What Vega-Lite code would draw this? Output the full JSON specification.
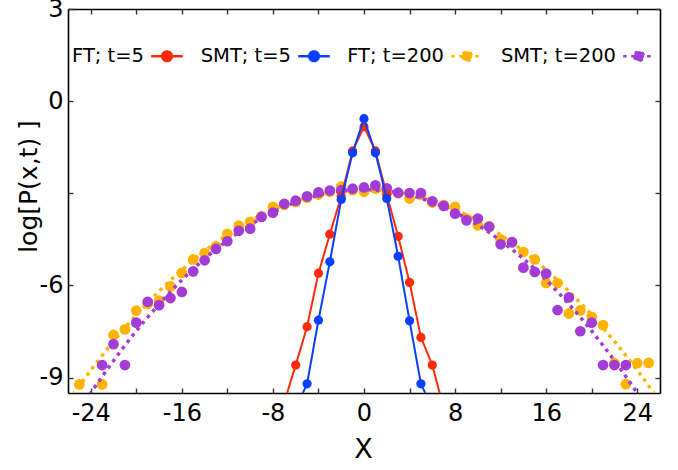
{
  "$schema": "https://vega.github.io/schema/vega-lite/v6.json",
  "width": 592,
  "height": 384,
  "autosize": {"type": "none"},
  "padding": {"left": 68, "top": 9, "right": 18, "bottom": 77},
  "background": "white",
  "config": {
    "view": {"stroke": null},
    "font": "DejaVu Sans",
    "axis": {
      "grid": false,
      "labelFont": "DejaVu Sans",
      "labelFontSize": 24,
      "labelColor": "black",
      "labelFlush": false,
      "labelOverlap": false,
      "titleFont": "DejaVu Sans",
      "titleFontSize": 25,
      "titleFontWeight": "normal",
      "titleColor": "black",
      "domainColor": "black",
      "domainWidth": 1.6,
      "tickColor": "#333333",
      "tickWidth": 1.4,
      "tickSize": -5
    }
  },
  "datasets": {
    "t5": [
      {"s": "FT; t=5", "x": -7, "y": -9.8},
      {"s": "FT; t=5", "x": -6, "y": -8.59},
      {"s": "FT; t=5", "x": -5, "y": -7.34},
      {"s": "FT; t=5", "x": -4, "y": -5.6},
      {"s": "FT; t=5", "x": -3, "y": -4.33},
      {"s": "FT; t=5", "x": -2, "y": -3.1},
      {"s": "FT; t=5", "x": -1, "y": -1.62},
      {"s": "FT; t=5", "x": 0, "y": -0.83},
      {"s": "FT; t=5", "x": 1, "y": -1.62},
      {"s": "FT; t=5", "x": 2, "y": -3.05},
      {"s": "FT; t=5", "x": 3, "y": -4.4},
      {"s": "FT; t=5", "x": 4, "y": -5.9},
      {"s": "FT; t=5", "x": 5, "y": -7.69},
      {"s": "FT; t=5", "x": 6, "y": -8.59},
      {"s": "FT; t=5", "x": 7, "y": -10.0},
      {"s": "SMT; t=5", "x": -6, "y": -10.0},
      {"s": "SMT; t=5", "x": -5, "y": -9.2},
      {"s": "SMT; t=5", "x": -4, "y": -7.13},
      {"s": "SMT; t=5", "x": -3, "y": -5.23},
      {"s": "SMT; t=5", "x": -2, "y": -3.2},
      {"s": "SMT; t=5", "x": -1, "y": -1.68},
      {"s": "SMT; t=5", "x": 0, "y": -0.57},
      {"s": "SMT; t=5", "x": 1, "y": -1.68},
      {"s": "SMT; t=5", "x": 2, "y": -3.17},
      {"s": "SMT; t=5", "x": 3, "y": -5.05},
      {"s": "SMT; t=5", "x": 4, "y": -7.15},
      {"s": "SMT; t=5", "x": 5, "y": -9.2},
      {"s": "SMT; t=5", "x": 6, "y": -10.0}
    ],
    "t200": [
      {"s": "FT; t=200", "x": -25, "y": -9.22},
      {"s": "FT; t=200", "x": -23, "y": -9.22},
      {"s": "FT; t=200", "x": -22, "y": -7.61},
      {"s": "FT; t=200", "x": -21, "y": -7.43},
      {"s": "FT; t=200", "x": -20, "y": -6.82},
      {"s": "FT; t=200", "x": -19, "y": -6.6},
      {"s": "FT; t=200", "x": -18, "y": -6.49},
      {"s": "FT; t=200", "x": -17, "y": -6.03},
      {"s": "FT; t=200", "x": -16, "y": -5.59},
      {"s": "FT; t=200", "x": -15, "y": -5.15},
      {"s": "FT; t=200", "x": -14, "y": -4.95},
      {"s": "FT; t=200", "x": -13, "y": -4.73},
      {"s": "FT; t=200", "x": -12, "y": -4.32},
      {"s": "FT; t=200", "x": -11, "y": -4.05},
      {"s": "FT; t=200", "x": -10, "y": -3.93},
      {"s": "FT; t=200", "x": -9, "y": -3.75},
      {"s": "FT; t=200", "x": -8, "y": -3.44},
      {"s": "FT; t=200", "x": -7, "y": -3.38},
      {"s": "FT; t=200", "x": -6, "y": -3.28},
      {"s": "FT; t=200", "x": -5, "y": -3.14},
      {"s": "FT; t=200", "x": -4, "y": -3.04},
      {"s": "FT; t=200", "x": -3, "y": -2.95},
      {"s": "FT; t=200", "x": -2, "y": -2.78},
      {"s": "FT; t=200", "x": -1, "y": -2.9},
      {"s": "FT; t=200", "x": 0, "y": -2.95},
      {"s": "FT; t=200", "x": 1, "y": -2.85},
      {"s": "FT; t=200", "x": 2, "y": -2.98},
      {"s": "FT; t=200", "x": 3, "y": -3.0},
      {"s": "FT; t=200", "x": 4, "y": -3.17},
      {"s": "FT; t=200", "x": 5, "y": -3.05},
      {"s": "FT; t=200", "x": 6, "y": -3.3},
      {"s": "FT; t=200", "x": 7, "y": -3.38},
      {"s": "FT; t=200", "x": 8, "y": -3.44},
      {"s": "FT; t=200", "x": 9, "y": -3.82},
      {"s": "FT; t=200", "x": 10, "y": -4.04},
      {"s": "FT; t=200", "x": 11, "y": -4.07},
      {"s": "FT; t=200", "x": 12, "y": -4.5},
      {"s": "FT; t=200", "x": 13, "y": -4.6},
      {"s": "FT; t=200", "x": 14, "y": -4.91},
      {"s": "FT; t=200", "x": 15, "y": -5.15},
      {"s": "FT; t=200", "x": 16, "y": -5.92},
      {"s": "FT; t=200", "x": 17, "y": -5.92},
      {"s": "FT; t=200", "x": 18, "y": -6.91},
      {"s": "FT; t=200", "x": 19, "y": -6.81},
      {"s": "FT; t=200", "x": 20, "y": -7.02},
      {"s": "FT; t=200", "x": 21, "y": -7.29},
      {"s": "FT; t=200", "x": 22, "y": -8.53},
      {"s": "FT; t=200", "x": 23, "y": -9.21},
      {"s": "FT; t=200", "x": 24, "y": -8.53},
      {"s": "FT; t=200", "x": 25, "y": -8.52},
      {"s": "SMT; t=200", "x": -23, "y": -8.59},
      {"s": "SMT; t=200", "x": -22, "y": -7.91},
      {"s": "SMT; t=200", "x": -21, "y": -8.59},
      {"s": "SMT; t=200", "x": -20, "y": -7.21},
      {"s": "SMT; t=200", "x": -19, "y": -6.53},
      {"s": "SMT; t=200", "x": -18, "y": -6.64},
      {"s": "SMT; t=200", "x": -17, "y": -6.41},
      {"s": "SMT; t=200", "x": -16, "y": -6.21},
      {"s": "SMT; t=200", "x": -15, "y": -5.54},
      {"s": "SMT; t=200", "x": -14, "y": -5.18},
      {"s": "SMT; t=200", "x": -13, "y": -4.81},
      {"s": "SMT; t=200", "x": -12, "y": -4.56},
      {"s": "SMT; t=200", "x": -11, "y": -4.22},
      {"s": "SMT; t=200", "x": -10, "y": -4.15},
      {"s": "SMT; t=200", "x": -9, "y": -3.77},
      {"s": "SMT; t=200", "x": -8, "y": -3.63},
      {"s": "SMT; t=200", "x": -7, "y": -3.34},
      {"s": "SMT; t=200", "x": -6, "y": -3.24},
      {"s": "SMT; t=200", "x": -5, "y": -3.1},
      {"s": "SMT; t=200", "x": -4, "y": -2.97},
      {"s": "SMT; t=200", "x": -3, "y": -2.91},
      {"s": "SMT; t=200", "x": -2, "y": -2.9},
      {"s": "SMT; t=200", "x": -1, "y": -2.85},
      {"s": "SMT; t=200", "x": 0, "y": -2.81},
      {"s": "SMT; t=200", "x": 1, "y": -2.74},
      {"s": "SMT; t=200", "x": 2, "y": -2.84},
      {"s": "SMT; t=200", "x": 3, "y": -2.98},
      {"s": "SMT; t=200", "x": 4, "y": -2.99},
      {"s": "SMT; t=200", "x": 5, "y": -2.99},
      {"s": "SMT; t=200", "x": 6, "y": -3.26},
      {"s": "SMT; t=200", "x": 7, "y": -3.41},
      {"s": "SMT; t=200", "x": 8, "y": -3.66},
      {"s": "SMT; t=200", "x": 9, "y": -3.88},
      {"s": "SMT; t=200", "x": 10, "y": -3.82},
      {"s": "SMT; t=200", "x": 11, "y": -4.09},
      {"s": "SMT; t=200", "x": 12, "y": -4.66},
      {"s": "SMT; t=200", "x": 13, "y": -4.59},
      {"s": "SMT; t=200", "x": 14, "y": -5.42},
      {"s": "SMT; t=200", "x": 15, "y": -5.56},
      {"s": "SMT; t=200", "x": 16, "y": -5.61},
      {"s": "SMT; t=200", "x": 17, "y": -6.8},
      {"s": "SMT; t=200", "x": 18, "y": -6.39},
      {"s": "SMT; t=200", "x": 19, "y": -7.49},
      {"s": "SMT; t=200", "x": 20, "y": -7.21},
      {"s": "SMT; t=200", "x": 21, "y": -8.59},
      {"s": "SMT; t=200", "x": 22, "y": -8.59},
      {"s": "SMT; t=200", "x": 23, "y": -8.59}
    ],
    "fit200": [
      {"s": "FT; t=200", "x": -26, "y": -9.78},
      {"s": "FT; t=200", "x": -24, "y": -8.76},
      {"s": "FT; t=200", "x": -22, "y": -7.82},
      {"s": "FT; t=200", "x": -20, "y": -6.96},
      {"s": "FT; t=200", "x": -18, "y": -6.19},
      {"s": "FT; t=200", "x": -16, "y": -5.49},
      {"s": "FT; t=200", "x": -14, "y": -4.88},
      {"s": "FT; t=200", "x": -12, "y": -4.35},
      {"s": "FT; t=200", "x": -10, "y": -3.9},
      {"s": "FT; t=200", "x": -8, "y": -3.53},
      {"s": "FT; t=200", "x": -6, "y": -3.25},
      {"s": "FT; t=200", "x": -4, "y": -3.04},
      {"s": "FT; t=200", "x": -2, "y": -2.92},
      {"s": "FT; t=200", "x": 0, "y": -2.88},
      {"s": "FT; t=200", "x": 2, "y": -2.92},
      {"s": "FT; t=200", "x": 4, "y": -3.04},
      {"s": "FT; t=200", "x": 6, "y": -3.25},
      {"s": "FT; t=200", "x": 8, "y": -3.53},
      {"s": "FT; t=200", "x": 10, "y": -3.9},
      {"s": "FT; t=200", "x": 12, "y": -4.35},
      {"s": "FT; t=200", "x": 14, "y": -4.88},
      {"s": "FT; t=200", "x": 16, "y": -5.49},
      {"s": "FT; t=200", "x": 18, "y": -6.19},
      {"s": "FT; t=200", "x": 20, "y": -6.96},
      {"s": "FT; t=200", "x": 22, "y": -7.82},
      {"s": "FT; t=200", "x": 24, "y": -8.76},
      {"s": "FT; t=200", "x": 26, "y": -9.78},
      {"s": "SMT; t=200", "x": -26, "y": -10.65},
      {"s": "SMT; t=200", "x": -24, "y": -9.5},
      {"s": "SMT; t=200", "x": -22, "y": -8.45},
      {"s": "SMT; t=200", "x": -20, "y": -7.48},
      {"s": "SMT; t=200", "x": -18, "y": -6.61},
      {"s": "SMT; t=200", "x": -16, "y": -5.82},
      {"s": "SMT; t=200", "x": -14, "y": -5.13},
      {"s": "SMT; t=200", "x": -12, "y": -4.54},
      {"s": "SMT; t=200", "x": -10, "y": -4.03},
      {"s": "SMT; t=200", "x": -8, "y": -3.62},
      {"s": "SMT; t=200", "x": -6, "y": -3.29},
      {"s": "SMT; t=200", "x": -4, "y": -3.06},
      {"s": "SMT; t=200", "x": -2, "y": -2.93},
      {"s": "SMT; t=200", "x": 0, "y": -2.88},
      {"s": "SMT; t=200", "x": 2, "y": -2.93},
      {"s": "SMT; t=200", "x": 4, "y": -3.06},
      {"s": "SMT; t=200", "x": 6, "y": -3.29},
      {"s": "SMT; t=200", "x": 8, "y": -3.62},
      {"s": "SMT; t=200", "x": 10, "y": -4.03},
      {"s": "SMT; t=200", "x": 12, "y": -4.54},
      {"s": "SMT; t=200", "x": 14, "y": -5.13},
      {"s": "SMT; t=200", "x": 16, "y": -5.82},
      {"s": "SMT; t=200", "x": 18, "y": -6.61},
      {"s": "SMT; t=200", "x": 20, "y": -7.48},
      {"s": "SMT; t=200", "x": 22, "y": -8.45},
      {"s": "SMT; t=200", "x": 24, "y": -9.5},
      {"s": "SMT; t=200", "x": 26, "y": -10.65}
    ]
  },
  "encoding": {
    "x": {"field": "x", "type": "quantitative", "scale": {"domain": [-26, 26], "nice": false, "zero": false}, "axis": null},
    "y": {"field": "y", "type": "quantitative", "scale": {"domain": [-9.5, 3], "nice": false, "zero": false}, "axis": null},
    "color": {
      "field": "s",
      "type": "nominal",
      "scale": {
        "domain": ["FT; t=5", "SMT; t=5", "FT; t=200", "SMT; t=200"],
        "range": ["#ff2a0c", "#0a3fff", "#ffb300", "#a33bd6"]
      },
      "legend": {
        "title": null,
        "orient": "none",
        "legendX": 82,
        "legendY": 30,
        "direction": "horizontal",
        "labelFont": "DejaVu Sans",
        "labelFontSize": 19.5,
        "labelColor": "black",
        "labelLimit": 0,
        "labelAlign": "right",
        "labelOffset": -40,
        "columnPadding": 12,
        "symbolType": "M-1,0H1M-0.31,0A0.31,0.31,0,1,0,0.31,0A0.31,0.31,0,1,0,-0.31,0",
        "symbolSize": 1000,
        "symbolStrokeWidth": 2.3
      }
    }
  },
  "layer": [
    {
      "data": {"name": "t200"},
      "transform": [{"filter": "datum.s == 'FT; t=200'"}],
      "mark": {"type": "circle", "size": 115, "opacity": 1, "clip": true},
      "encoding": {
        "x": {
          "field": "x", "type": "quantitative",
          "scale": {"domain": [-26, 26], "nice": false, "zero": false},
          "axis": {
            "orient": "bottom",
            "values": [-24, -20, -16, -12, -8, -4, 0, 4, 8, 12, 16, 20, 24],
            "labelExpr": "datum.value % 8 == 0 ? '' + datum.value : ''",
            "labelPadding": 13,
            "title": "X",
            "titleFontSize": 27,
            "titleX": 295,
            "titleY": 56,
            "titleBaseline": "middle"
          }
        },
        "y": {
          "field": "y", "type": "quantitative",
          "scale": {"domain": [-9.5, 3], "nice": false, "zero": false},
          "axis": {
            "orient": "left",
            "values": [-9, -6, -3, 0, 3],
            "labelExpr": "datum.value == -3 ? '' : '' + datum.value",
            "labelPadding": 10,
            "title": "log[P(x,t) ]",
            "titleX": -40,
            "titleY": 177,
            "titleBaseline": "middle"
          }
        }
      }
    },
    {
      "data": {"name": "fit200"},
      "transform": [{"filter": "datum.s == 'FT; t=200'"}],
      "mark": {"type": "line", "strokeWidth": 3.5, "interpolate": "monotone", "clip": true},
      "encoding": {
        "x": {
          "field": "x", "type": "quantitative",
          "scale": {"domain": [-26, 26], "nice": false, "zero": false},
          "axis": {
            "orient": "top",
            "values": [-24, -20, -16, -12, -8, -4, 0, 4, 8, 12, 16, 20, 24],
            "labels": false,
            "title": null
          }
        },
        "y": {
          "field": "y", "type": "quantitative",
          "scale": {"domain": [-9.5, 3], "nice": false, "zero": false},
          "axis": {
            "orient": "right",
            "values": [-9, -6, -3, 0, 3],
            "labels": false,
            "title": null
          }
        },
        "strokeDash": {
          "field": "s", "type": "nominal",
          "scale": {
            "domain": ["FT; t=5", "SMT; t=5", "FT; t=200", "SMT; t=200"],
            "range": [[1, 0], [1, 0], [3.5, 4.5], [3.5, 4.5]]
          }
        }
      }
    },
    {
      "data": {"name": "t200"},
      "transform": [{"filter": "datum.s == 'SMT; t=200'"}],
      "mark": {"type": "circle", "size": 115, "opacity": 1, "clip": true}
    },
    {
      "data": {"name": "fit200"},
      "transform": [{"filter": "datum.s == 'SMT; t=200'"}],
      "mark": {"type": "line", "strokeWidth": 3.5, "interpolate": "monotone", "clip": true},
      "encoding": {
        "strokeDash": {"field": "s", "type": "nominal"}
      }
    },
    {
      "data": {"name": "t5"},
      "transform": [{"filter": "datum.s == 'FT; t=5'"}],
      "mark": {"type": "line", "strokeWidth": 2, "clip": true},
      "encoding": {
        "strokeDash": {"field": "s", "type": "nominal"}
      }
    },
    {
      "data": {"name": "t5"},
      "transform": [{"filter": "datum.s == 'FT; t=5'"}],
      "mark": {"type": "circle", "size": 85, "opacity": 1, "clip": true}
    },
    {
      "data": {"name": "t5"},
      "transform": [{"filter": "datum.s == 'SMT; t=5'"}],
      "mark": {"type": "line", "strokeWidth": 2, "clip": true},
      "encoding": {
        "strokeDash": {"field": "s", "type": "nominal"}
      }
    },
    {
      "data": {"name": "t5"},
      "transform": [{"filter": "datum.s == 'SMT; t=5'"}],
      "mark": {"type": "circle", "size": 85, "opacity": 1, "clip": true}
    }
  ],
  "resolve": {"axis": {"x": "independent", "y": "independent"}}
}
